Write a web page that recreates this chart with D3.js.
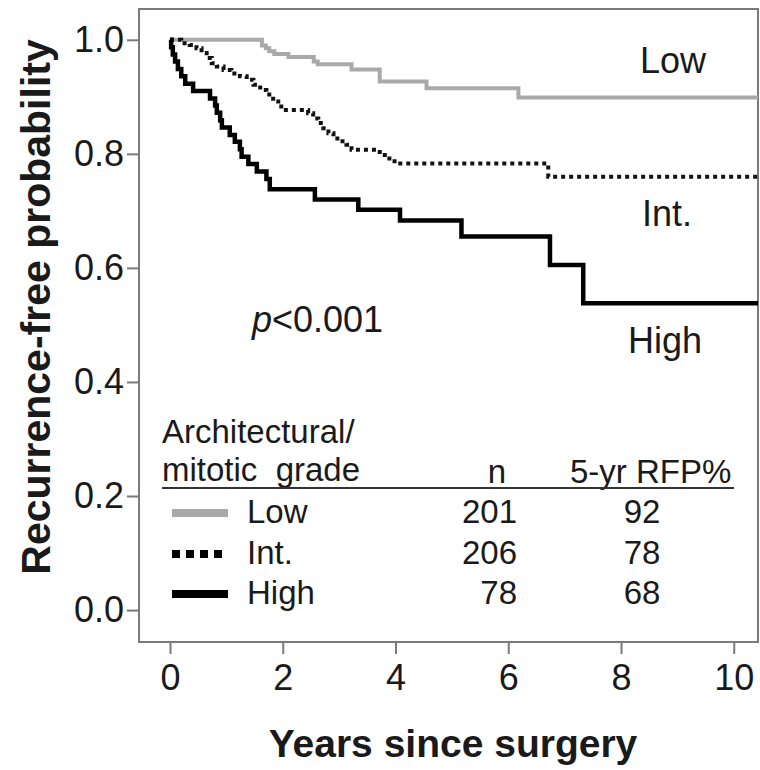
<!DOCTYPE html>
<html lang="en">
<head>
    <meta charset="UTF-8">
    <title>Recurrence-free probability by grade</title>
    <style>
        body {
            margin: 0;
            background: #ffffff;
        }
        svg text {
            font-family: Arial, "Liberation Sans", sans-serif;
            fill: #1a1a1a;
        }
    </style>
    <script src="https://d3js.org/d3.v7.min.js"></script>
</head>
<body>
<div id="chart"></div>

<script>
    // Kaplan-Meier steps: time (years) and survival after the step
    const lowTimes  = [0, 1.63, 1.70, 1.76, 1.85, 2.10, 2.55, 2.62, 3.22, 3.72, 4.55, 6.18, 10.45];
    const lowSurv   = [1, 0.990, 0.985, 0.980, 0.975, 0.970, 0.962, 0.957, 0.948, 0.927, 0.915, 0.899, 0.899];

    const intTimes  = [0, 0.20, 0.35, 0.47, 0.56, 0.65, 0.74, 0.83, 0.95, 1.09, 1.24, 1.36, 1.48, 1.60, 1.71,
                       1.83, 1.92, 2.01, 2.45, 2.54, 2.63, 2.72, 2.81, 2.90, 3.01, 3.13, 3.22, 3.72, 3.81,
                       3.93, 4.02, 6.71, 10.45];
    const intSurv   = [1, 0.994, 0.991, 0.985, 0.977, 0.968, 0.959, 0.953, 0.947, 0.941, 0.936, 0.930, 0.921, 0.912, 0.904,
                       0.892, 0.883, 0.877, 0.871, 0.862, 0.854, 0.845, 0.836, 0.827, 0.822, 0.816, 0.807, 0.798, 0.792,
                       0.787, 0.783, 0.760, 0.760];

    const highTimes = [0, 0.02, 0.05, 0.09, 0.14, 0.20, 0.27, 0.41, 0.71, 0.80, 0.83, 0.89, 0.92, 1.06, 1.15,
                       1.24, 1.27, 1.39, 1.54, 1.71, 1.77, 2.57, 3.34, 4.08, 5.17, 6.74, 7.33, 10.45];
    const highSurv  = [1, 0.987, 0.974, 0.962, 0.949, 0.936, 0.923, 0.910, 0.897, 0.885, 0.872, 0.859, 0.846, 0.833, 0.821,
                       0.808, 0.795, 0.782, 0.769, 0.756, 0.738, 0.720, 0.702, 0.683, 0.655, 0.605, 0.538, 0.538];

    // legend table
    const groups   = ["Low", "Int.", "High"];
    const nValues  = ["201", "206", "78"];
    const rfp5yr   = ["92", "78", "68"];

    const xTicks = [0, 2, 4, 6, 8, 10];
    const yTicks = [0.0, 0.2, 0.4, 0.6, 0.8, 1.0];

    const W = 760, H = 770;
    const plot = { left: 139, right: 758, top: 9, bottom: 642 };

    const svg = d3.select("#chart").append("svg")
        .attr("width", W)
        .attr("height", H);

    const x = d3.scaleLinear().domain([-0.55, 10.43]).range([plot.left, plot.right]);
    const y = d3.scaleLinear().domain([-0.056, 1.054]).range([plot.bottom, plot.top]);

    svg.append("clipPath").attr("id", "clip")
        .append("rect")
        .attr("x", plot.left).attr("y", plot.top)
        .attr("width", plot.right - plot.left).attr("height", plot.bottom - plot.top);

    // frame
    svg.append("rect")
        .attr("x", plot.left).attr("y", plot.top)
        .attr("width", plot.right - plot.left).attr("height", plot.bottom - plot.top)
        .attr("fill", "none")
        .attr("stroke", "#7a7a7a")
        .attr("stroke-width", 2);

    // y axis
    const yAxis = svg.append("g")
        .attr("transform", `translate(${plot.left},0)`)
        .call(d3.axisLeft(y).tickValues(yTicks).tickFormat(d3.format(".1f")).tickSize(12).tickPadding(3));
    yAxis.select(".domain").remove();
    yAxis.selectAll("line").attr("stroke", "#7a7a7a").attr("stroke-width", 2);
    yAxis.selectAll("text").style("font-size", "36px").attr("fill", "#1a1a1a");

    // x axis
    const xAxis = svg.append("g")
        .attr("transform", `translate(0,${plot.bottom})`)
        .call(d3.axisBottom(x).tickValues(xTicks).tickSize(12).tickPadding(10));
    xAxis.select(".domain").remove();
    xAxis.selectAll("line").attr("stroke", "#7a7a7a").attr("stroke-width", 2);
    xAxis.selectAll("text").style("font-size", "36px").attr("fill", "#1a1a1a");

    // axis titles
    svg.append("text")
        .attr("transform", "translate(50,307) rotate(-90)")
        .attr("text-anchor", "middle")
        .style("font-size", "41px")
        .style("font-weight", "bold")
        .text("Recurrence-free probability");

    svg.append("text")
        .attr("x", 453).attr("y", 757)
        .attr("text-anchor", "middle")
        .style("font-size", "39px")
        .style("font-weight", "bold")
        .text("Years since surgery");

    // survival curves
    const step = d3.line()
        .x(d => x(d[0]))
        .y(d => y(d[1]))
        .curve(d3.curveStepAfter);

    const curves = svg.append("g").attr("clip-path", "url(#clip)");

    curves.append("path")
        .datum(d3.zip(lowTimes, lowSurv))
        .attr("fill", "none")
        .attr("stroke", "#a9a9a9")
        .attr("stroke-width", 4)
        .attr("d", step);

    curves.append("path")
        .datum(d3.zip(intTimes, intSurv))
        .attr("fill", "none")
        .attr("stroke", "#111")
        .attr("stroke-width", 4)
        .attr("stroke-dasharray", "4,4")
        .attr("d", step);

    curves.append("path")
        .datum(d3.zip(highTimes, highSurv))
        .attr("fill", "none")
        .attr("stroke", "#000")
        .attr("stroke-width", 4.5)
        .attr("d", step);

    // curve labels
    const curveLabels = [
        { t: "Low", x: 640, y: 73 },
        { t: "Int.", x: 642, y: 226 },
        { t: "High", x: 628, y: 353 }
    ];
    svg.selectAll(".clabel")
        .data(curveLabels)
        .enter().append("text")
        .attr("class", "clabel")
        .attr("x", d => d.x).attr("y", d => d.y)
        .style("font-size", "36px")
        .text(d => d.t);

    // p value
    const pText = svg.append("text")
        .attr("x", 252).attr("y", 332)
        .style("font-size", "36px");
    pText.append("tspan").style("font-style", "italic").text("p");
    pText.append("tspan").text("<0.001");

    // legend table
    const leg = svg.append("g").style("font-size", "33px");
    leg.append("text").attr("x", 162).attr("y", 443).text("Architectural/");
    leg.append("text").attr("x", 162).attr("y", 481).attr("xml:space", "preserve").text("mitotic  grade");
    leg.append("text").attr("x", 497).attr("y", 483).attr("text-anchor", "middle").text("n");
    leg.append("text").attr("x", 570).attr("y", 483).text("5-yr RFP%");
    leg.append("line")
        .attr("x1", 162).attr("x2", 734)
        .attr("y1", 488).attr("y2", 488)
        .attr("stroke", "#333").attr("stroke-width", 2);

    const rowY = [523, 564, 604];
    const swatch = [
        { stroke: "#a9a9a9", dash: null, w: 8 },
        { stroke: "#000", dash: "8,6", w: 8 },
        { stroke: "#000", dash: null, w: 8 }
    ];
    groups.forEach((g, i) => {
        leg.append("line")
            .attr("x1", 172).attr("x2", 228)
            .attr("y1", rowY[i] - 10).attr("y2", rowY[i] - 10)
            .attr("stroke", swatch[i].stroke)
            .attr("stroke-width", swatch[i].w)
            .attr("stroke-dasharray", swatch[i].dash);
        leg.append("text").attr("x", 247).attr("y", rowY[i]).text(g);
        leg.append("text").attr("x", 517).attr("y", rowY[i]).attr("text-anchor", "end").text(nValues[i]);
        leg.append("text").attr("x", 642).attr("y", rowY[i]).attr("text-anchor", "middle").text(rfp5yr[i]);
    });
</script>

</body>
</html>
